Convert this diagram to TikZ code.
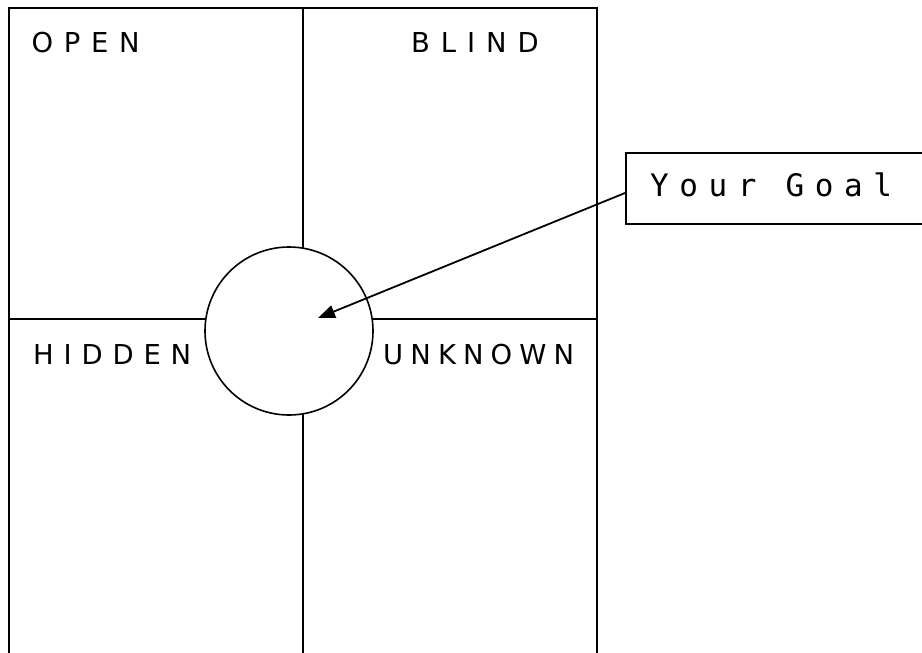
\documentclass[tikz,border=0pt]{standalone}
\usepackage{fontspec}
\usetikzlibrary{arrows.meta}
\newfontfamily\quadfont{DejaVu Sans}
\newfontfamily\goalfont[LetterSpace=34]{DejaVu Sans Mono}
\begin{document}
\begin{tikzpicture}[x=1pt,y=1pt,
  frameline/.style={line width=1.8pt,line cap=rect},
  quadlabel/.style={anchor=base west,inner sep=0pt,font=\fontsize{27.4}{30}\quadfont},
  goallabel/.style={anchor=base west,inner sep=0pt,font=\fontsize{31}{34}\goalfont},
  goalbox/.style={draw,line width=1.8pt,rectangle,anchor=north west,minimum width=330pt,minimum height=71pt,inner sep=0pt},
  focus/.style={draw,circle,fill=white,line width=1.6pt,minimum size=168pt,inner sep=0pt},
  pointer/.style={line width=1.8pt,-{Triangle[length=17pt,width=13pt]}}]
\useasboundingbox (0,0) rectangle (922,-653);
\clip (0,0) rectangle (922,-653);
\fill[white] (0,0) rectangle (922,-653);
% window frame
\draw[frameline] (9,-660) -- (9,-8) -- (597,-8) -- (597,-660);
\draw[frameline] (303,-8) -- (303,-660);
\draw[frameline] (9,-319) -- (597,-319);
% circle
\node[focus] (c) at (289,-331) {};
% labels
\node[quadlabel] (open) at (31.5,-52.5) {\addfontfeature{LetterSpace=39}OPEN};
\node[quadlabel] (blind) at (411,-52.5) {\addfontfeature{LetterSpace=40}BLIND};
\node[quadlabel] (hidden) at (33,-364) {\addfontfeature{LetterSpace=36}HIDDEN};
\node[quadlabel] (unknown) at (383,-364) {\addfontfeature{LetterSpace=26}UNKNOWN};
% goal box
\node[goalbox] (goal) at (625,-152) {};
\node[goallabel] (goaltext) at (650,-196) {Your Goal};
\coordinate (start) at (625,-193);
\coordinate (tip) at (318,-318);
\draw[pointer] (start) -- (tip);
\end{tikzpicture}
\end{document}
